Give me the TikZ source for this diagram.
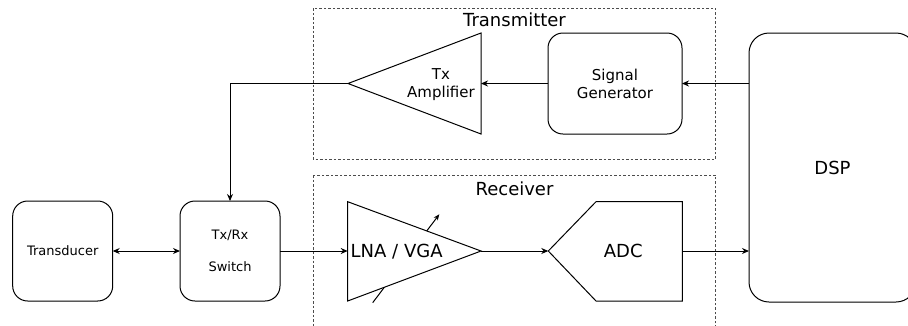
\documentclass[tikz,border=0pt]{standalone}
\usepackage{fontspec}
\setmainfont{DejaVu Sans}
\usetikzlibrary{arrows.meta}
\newcommand\fsBig{\fontsize{18}{21.6}\selectfont}
\newcommand\fsMid{\fontsize{15}{18}\selectfont}
\newcommand\fsSmall{\fontsize{13}{15.6}\selectfont}
\begin{document}
\begin{tikzpicture}[x=1pt,y=-1pt,
  every node/.style={inner sep=0pt, outer sep=0pt},
  block/.style={draw, line width=1pt, rounded corners=15pt, fill=white, align=center},
  shapeline/.style={draw, line width=1pt, fill=white, line join=miter},
  link/.style={line width=1pt, -{Stealth[length=7pt,width=6pt]}},
  group/.style={draw=black!70, line width=0.8pt, dash pattern=on 2.5pt off 2pt},
  grouplabel/.style={font=\fsBig, anchor=base}]
\useasboundingbox (0,0) rectangle (908,325);
\clip (0,0) rectangle (908,325);

% dashed groups
\draw[group] (313.3,8.3) rectangle (715.7,159);
\draw[group] (313.3,175) rectangle (715.7,345);
\node[grouplabel] (txgroup) at (514.5,26.7) {Transmitter};
\node[grouplabel] (rxgroup) at (514.5,195) {Receiver};

% rounded blocks
\node[block, minimum width=100pt, minimum height=100pt, font=\fsSmall] (td) at (62.7,251) {Transducer};
\node[block, minimum width=100pt, minimum height=100pt, font=\fsSmall] (sw) at (230,251) {Tx/Rx\\[16pt]Switch};
\node[block, minimum width=134pt, minimum height=101pt, font=\fsMid] (sg) at (615,83.5) {Signal\\Generator};
\node[block, rounded corners=20pt, minimum width=167pt, minimum height=269pt, font=\fsBig] (dsp) at (832.5,167.5) {DSP};

% transmit amplifier
\coordinate (txTop) at (481,33);
\coordinate (txBot) at (481,134);
\coordinate (txIn) at (481,83.5);
\coordinate (txOut) at (348,83.5);
\draw[shapeline] (txTop) -- (txBot) -- (txOut) -- cycle;
\node[font=\fsMid, align=center] (txlbl) at (441,84.5) {Tx\\Amplifier};

% variable gain control arrow, partly hidden by the amplifier body
\coordinate (gA) at (372.7,302.7);
\coordinate (gB) at (439.3,214.3);
\draw[line width=1pt, -{Stealth[length=6pt,width=5pt]}] (gA) -- (gB);

% receive amplifier
\coordinate (lnaTop) at (347.7,201.7);
\coordinate (lnaBot) at (347.7,301);
\coordinate (lnaIn) at (347.7,251);
\coordinate (lnaOut) at (481,251);
\draw[shapeline] (lnaTop) -- (lnaBot) -- (lnaOut) -- cycle;
\node[font=\fsBig, anchor=base west] (lnalbl) at (350.7,257.3) {LNA / VGA};

% converter
\coordinate (adcIn) at (548.3,251);
\coordinate (adcOut) at (682.3,251);
\draw[shapeline] (adcIn) -- (596,201.7) -- (682.3,201.7) -- (682.3,301) -- (596,301) -- cycle;
\node[font=\fsBig, anchor=base] (adclbl) at (623.2,257.3) {ADC};

% signal path
\draw[line width=1pt, {Stealth[length=7pt,width=6pt]}-{Stealth[length=7pt,width=6pt]}] (td) -- (sw);
\draw[link] (sw) -- (lnaIn);
\draw[link] (lnaOut) -- (adcIn);
\draw[link] (adcOut) -- (adcOut -| dsp.west);
\draw[link] (dsp.west |- sg.east) -- (sg.east);
\draw[link] (sg.west) -- (txIn);
\draw[link] (txOut) -| (sw.north);
\end{tikzpicture}
\end{document}
